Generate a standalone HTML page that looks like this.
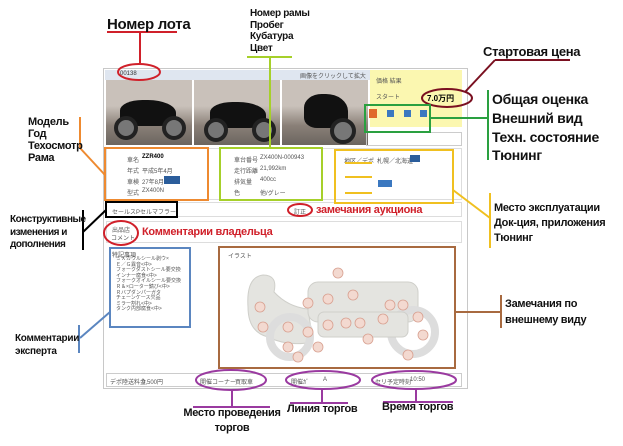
<!DOCTYPE html>
<html><head><meta charset="utf-8"><style>
body{margin:0;width:623px;height:446px;background:#fff;position:relative;overflow:hidden;font-family:"Liberation Sans","Noto Sans CJK JP",sans-serif}
.a{position:absolute}
.t{position:absolute;font-weight:bold;color:#111;white-space:nowrap;letter-spacing:-0.3px}
.jp{position:absolute;font-size:6px;color:#555;white-space:nowrap}
.box{position:absolute;box-sizing:border-box}
.ph{position:absolute;background:linear-gradient(#c9c1ba 0 40%,#8a8078 70%,#6b655f);overflow:hidden}
.ph i{position:absolute;background:#111;border-radius:40% 50% 30% 30%}
.ph b{position:absolute;border:4px solid #222;border-radius:50%;background:#777}
</style></head><body>
<div class="box" style="left:103px;top:68px;width:365px;height:321px;border:1px solid #c8c8c8"></div>
<div class="a" style="left:105px;top:70px;width:265px;height:10px;background:#dfe6f0"></div>
<div class="jp" style="left:120px;top:71px;color:#333">00138</div>
<div class="jp" style="left:300px;top:71px">画像をクリックして拡大</div>
<div class="a" style="left:370px;top:70px;width:92px;height:57px;background:#fbf7b0"></div>
<div class="jp" style="left:376px;top:76px">価格 結果</div>
<div class="jp" style="left:376px;top:92px">スタート</div>
<div class="a" style="left:427px;top:93px;font-size:8px;font-weight:bold">7.0万円</div>
<div class="ph" style="left:106px;top:80px;width:86px;height:65px"><i style="left:14px;top:20px;width:56px;height:26px"></i><b style="left:8px;top:36px;width:16px;height:16px"></b><b style="left:56px;top:36px;width:16px;height:16px"></b></div>
<div class="ph" style="left:194px;top:80px;width:86px;height:65px"><i style="left:16px;top:22px;width:56px;height:26px"></i><b style="left:10px;top:38px;width:16px;height:16px"></b><b style="left:58px;top:38px;width:16px;height:16px"></b></div>
<div class="ph" style="left:282px;top:80px;width:86px;height:65px"><i style="left:22px;top:14px;width:44px;height:34px"></i><b style="left:48px;top:38px;width:18px;height:18px"></b></div>
<div class="a" style="left:369px;top:109px;width:8px;height:9px;background:#e06a2a"></div>
<div class="a" style="left:387px;top:110px;width:7px;height:7px;background:#3b78c0"></div>
<div class="a" style="left:404px;top:110px;width:7px;height:7px;background:#3b78c0"></div>
<div class="a" style="left:420px;top:110px;width:7px;height:7px;background:#3b78c0"></div>
<div class="box" style="left:366px;top:132px;width:96px;height:14px;border:1px solid #ccc"></div>
<div class="box" style="left:106px;top:148px;width:356px;height:52px;border:1px solid #ddd"></div>
<div class="jp" style="left:127px;top:155px">車名</div><div class="a" style="left:142px;top:154px;font-size:6px;font-weight:bold">ZZR400</div>
<div class="jp" style="left:127px;top:166px">年式</div><div class="jp" style="left:142px;top:166px">平成5年4月</div>
<div class="jp" style="left:127px;top:177px">車検</div><div class="jp" style="left:142px;top:177px">27年8月</div><div class="a" style="left:164px;top:176px;width:16px;height:8px;background:#2b5d9b"></div>
<div class="jp" style="left:127px;top:188px">型式</div><div class="jp" style="left:142px;top:188px">ZX400N</div>
<div class="jp" style="left:234px;top:155px">車台番号</div><div class="jp" style="left:260px;top:155px">ZX400N-000943</div>
<div class="jp" style="left:234px;top:166px">走行距離</div><div class="jp" style="left:260px;top:166px">21,992km</div>
<div class="jp" style="left:234px;top:177px">排気量</div><div class="jp" style="left:260px;top:177px">400cc</div>
<div class="jp" style="left:234px;top:188px">色</div><div class="jp" style="left:260px;top:188px">他/グレー</div>
<div class="jp" style="left:344px;top:156px">地区／デポ</div><div class="jp" style="left:377px;top:156px">札幌／北海道</div><div class="a" style="left:410px;top:155px;width:10px;height:7px;background:#2b5d9b"></div>
<div class="a" style="left:378px;top:180px;width:14px;height:7px;background:#3b78c0"></div>
<div class="box" style="left:106px;top:202px;width:356px;height:15px;border:1px solid #ddd"></div>
<div class="jp" style="left:112px;top:207px">セールスP</div><div class="jp" style="left:140px;top:207px">セルマフラー</div>
<div class="jp" style="left:294px;top:207px">訂正</div>
<div class="box" style="left:106px;top:221px;width:356px;height:22px;border:1px solid #ddd"></div>
<div class="jp" style="left:112px;top:225px">出品店</div><div class="jp" style="left:111px;top:233px">コメント</div>
<div class="jp" style="left:112px;top:250px">特記事項</div>
<div class="a" style="left:116px;top:257px;font-size:5px;color:#555;line-height:5.6px">ミＸカウルシール剥ウ×<br>Ｅ／Ｇ異音&lt;中&gt;<br>フォークダストシール要交換<br>インナー腐食&lt;中&gt;<br>フォークオイルシール要交換<br>Ｒ＆×ローター錆び&lt;中&gt;<br>Ｒバプダンパーガタ<br>チェーンケース欠品<br>ミラー割れ&lt;中&gt;<br>タンク内部腐食&lt;中&gt;</div>
<div class="jp" style="left:228px;top:251px">イラスト</div>
<svg class="a" style="left:218px;top:247px" width="237" height="121">
<g fill="#e4e4e0" stroke="#cfcfca" stroke-width="1">
<path d="M30 60 Q28 30 45 28 Q60 28 56 45 Q70 60 90 62 L95 95 Q70 100 50 90 Q30 85 30 60Z"/>
<rect x="90" y="35" width="110" height="40" rx="10"/>
<circle cx="72" cy="90" r="20" fill="none" stroke="#ddd" stroke-width="8"/>
<circle cx="195" cy="85" r="22" fill="none" stroke="#ddd" stroke-width="8"/>
<rect x="100" y="65" width="90" height="25" rx="6"/>
</g>
<g fill="#f3d9d0" stroke="#d8a090" stroke-width="0.8">
<circle cx="120" cy="26" r="5"/><circle cx="42" cy="60" r="5"/><circle cx="90" cy="56" r="5"/><circle cx="110" cy="52" r="5"/><circle cx="135" cy="48" r="5"/>
<circle cx="45" cy="80" r="5"/><circle cx="70" cy="80" r="5"/><circle cx="90" cy="85" r="5"/><circle cx="110" cy="78" r="5"/><circle cx="128" cy="76" r="5"/><circle cx="142" cy="76" r="5"/><circle cx="165" cy="72" r="5"/><circle cx="172" cy="58" r="5"/><circle cx="185" cy="58" r="5"/><circle cx="200" cy="70" r="5"/><circle cx="205" cy="88" r="5"/><circle cx="70" cy="100" r="5"/><circle cx="100" cy="100" r="5"/><circle cx="150" cy="92" r="5"/><circle cx="190" cy="108" r="5"/><circle cx="80" cy="110" r="5"/>
</g></svg>
<div class="box" style="left:106px;top:373px;width:356px;height:14px;border:1px solid #ccc"></div>
<div class="jp" style="left:110px;top:377px">デポ陸送料金</div><div class="jp" style="left:142px;top:377px">9,500円</div>
<div class="jp" style="left:200px;top:377px">開催コーナー</div><div class="jp" style="left:235px;top:377px">買取車</div>
<div class="jp" style="left:291px;top:377px">開催ｶﾞ</div><div class="jp" style="left:323px;top:377px">A</div>
<div class="jp" style="left:375px;top:377px">セリ予定時刻</div><div class="jp" style="left:410px;top:377px">10:50</div>

<svg class="a" style="left:0;top:0" width="623" height="446" fill="none">
<g stroke="#d0202a" stroke-width="2"><line x1="107" y1="32" x2="177" y2="32"/><line x1="140" y1="32" x2="140" y2="63"/><ellipse cx="139" cy="72" rx="21" ry="8"/><ellipse cx="300" cy="210" rx="12" ry="6"/><ellipse cx="121" cy="233" rx="17" ry="12"/></g>
<g stroke="#a6d02a" stroke-width="2"><line x1="247" y1="57" x2="292" y2="57"/><line x1="270" y1="57" x2="270" y2="148"/><rect x="220" y="148" width="102" height="52"/></g>
<g stroke="#ee8a30" stroke-width="2"><rect x="105" y="148" width="103" height="52"/><line x1="80" y1="117" x2="80" y2="148"/><line x1="80" y1="148" x2="105" y2="175"/></g>
<g stroke="#f0c020" stroke-width="2"><rect x="335" y="150" width="118" height="53"/><line x1="453" y1="190" x2="490" y2="218"/><line x1="490" y1="193" x2="490" y2="248"/><line x1="345" y1="163" x2="372" y2="163"/><line x1="345" y1="177" x2="372" y2="177"/><line x1="345" y1="193" x2="372" y2="193"/></g>
<g stroke="#7a1020" stroke-width="2"><line x1="495" y1="60" x2="570" y2="60"/><line x1="495" y1="60" x2="465" y2="92"/><ellipse cx="447" cy="98" rx="25" ry="9"/></g>
<g stroke="#2aa040" stroke-width="2"><rect x="365" y="105" width="65" height="27"/><line x1="430" y1="118" x2="488" y2="118"/><line x1="488" y1="90" x2="488" y2="160"/></g>
<g stroke="#000" stroke-width="2"><rect x="106" y="202" width="71" height="15"/><line x1="106" y1="210" x2="83" y2="232"/><line x1="83" y1="210" x2="83" y2="250"/></g>
<g stroke="#5b86c0" stroke-width="2"><rect x="110" y="248" width="80" height="79"/><line x1="110" y1="312" x2="80" y2="338"/><line x1="79" y1="325" x2="79" y2="353"/></g>
<g stroke="#a86a40" stroke-width="2"><rect x="219" y="247" width="236" height="121"/><line x1="455" y1="312" x2="501" y2="312"/><line x1="501" y1="295" x2="501" y2="328"/></g>
<g stroke="#9a3aa0" stroke-width="2"><ellipse cx="231" cy="380" rx="35" ry="10"/><ellipse cx="323" cy="380" rx="37" ry="9"/><ellipse cx="414" cy="380" rx="42" ry="9"/>
<line x1="232" y1="390" x2="232" y2="407"/><line x1="193" y1="407" x2="270" y2="407"/><line x1="322" y1="389" x2="322" y2="403"/><line x1="290" y1="403" x2="348" y2="403"/><line x1="416" y1="389" x2="416" y2="402"/><line x1="383" y1="402" x2="453" y2="402"/></g>
</svg>
<div class="t" style="left:107px;top:16px;font-size:15px">Номер лота</div>
<div class="t" style="left:250px;top:8px;font-size:10px;line-height:11.7px">Номер рамы<br>Пробег<br>Кубатура<br>Цвет</div>
<div class="t" style="left:483px;top:44px;font-size:13px">Стартовая цена</div>
<div class="t" style="left:492px;top:90px;font-size:14px;line-height:18.8px">Общая оценка<br>Внешний вид<br>Техн. состояние<br>Тюнинг</div>
<div class="t" style="left:28px;top:116px;font-size:11px;line-height:12px">Модель<br>Год<br>Техосмотр<br>Рама</div>
<div class="t" style="left:494px;top:201px;font-size:11px;line-height:15px">Место эксплуатации<br>Док-ция, приложения<br>Тюнинг</div>
<div class="t" style="left:10px;top:214px;font-size:10px;line-height:12.5px;letter-spacing:-0.5px">Конструктивные<br>изменения и<br>дополнения</div>
<div class="t" style="left:316px;top:204px;font-size:11px;color:#d0202a">замечания аукциона</div>
<div class="t" style="left:142px;top:226px;font-size:11px;color:#d0202a">Комментарии владельца</div>
<div class="t" style="left:15px;top:332px;font-size:10px;line-height:13px">Комментарии<br>эксперта</div>
<div class="t" style="left:505px;top:296px;font-size:11px;line-height:16px">Замечания по<br>внешнему виду</div>
<div class="t" style="left:182px;top:406px;font-size:11px;line-height:15px;text-align:center;width:100px">Место проведения<br>торгов</div>
<div class="t" style="left:287px;top:403px;font-size:11px">Линия торгов</div>
<div class="t" style="left:382px;top:401px;font-size:11px">Время торгов</div>
</body></html>
